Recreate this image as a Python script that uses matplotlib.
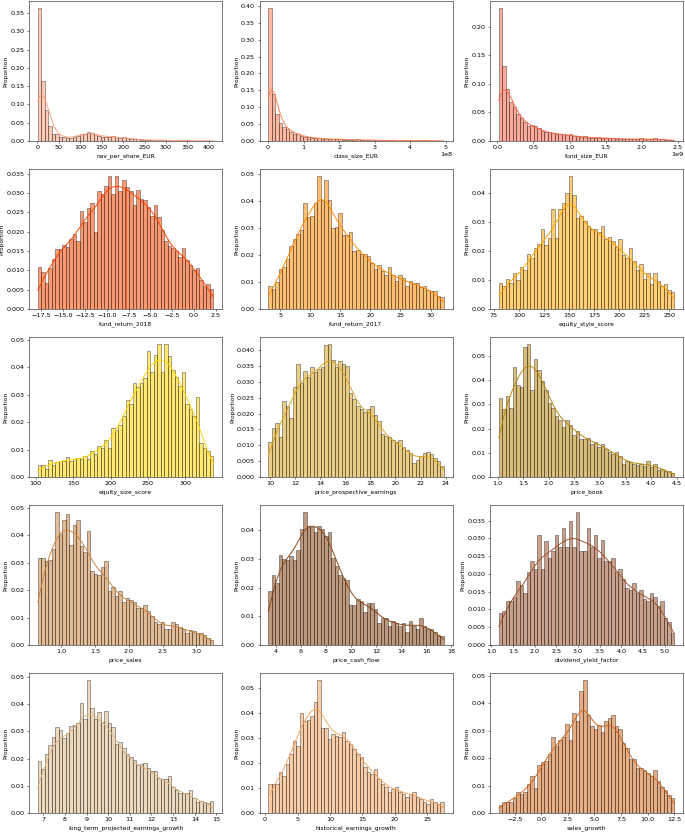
import numpy as np
import matplotlib
matplotlib.use("Agg")
import matplotlib.pyplot as plt

plt.rcParams["font.size"] = 10
plt.rcParams["axes.labelsize"] = 9.5

# column names, colours and data ranges (min, max) of each panel
names = ["nav_per_share_EUR", "class_size_EUR", "fund_size_EUR",
         "fund_return_2018", "fund_return_2017", "equity_style_score",
         "equity_size_score", "price_prospective_earnings", "price_book",
         "price_sales", "price_cash_flow", "dividend_yield_factor",
         "long_term_projected_earnings_growth", "historical_earnings_growth", "sales_growth"]
colors = ["lightsalmon", "coral", "tomato",
          "orangered", "darkorange", "orange",
          "gold", "goldenrod", "darkgoldenrod",
          "peru", "saddlebrown", "sienna",
          "burlywood", "sandybrown", "chocolate"]
ranges = [(1, 410), (0.5e6, 4.95e8), (0.02e9, 2.45e9),
          (-17.9, 2.2), (3.0, 32.2), (80, 255),
          (103, 337), (9.85, 23.85), (1.02, 4.45),
          (0.65, 3.25), (3.4, 17.4), (1.17, 5.22),
          (6.75, 14.85), (0.5, 27.5), (-4.0, 12.5)]

# proportion per bin (50 bins each)
nav_per_share = [0.365, 0.165, 0.085, 0.04, 0.02, 0.018, 0.012, 0.01, 0.008, 0.009,
                 0.01, 0.015, 0.02, 0.02, 0.025, 0.022, 0.018, 0.015, 0.012, 0.012,
                 0.012, 0.013, 0.01, 0.009, 0.01, 0.008, 0.006, 0.005, 0.005, 0.004,
                 0.003, 0.003, 0.002, 0.002, 0.002, 0.002, 0.003, 0.002, 0.001, 0.001,
                 0.001, 0.001, 0.002, 0.001, 0.001, 0.001, 0.001, 0.001, 0.001, 0.001]
class_size = [0.395, 0.14, 0.08, 0.052, 0.042, 0.035, 0.028, 0.022, 0.02, 0.016,
              0.012, 0.011, 0.009, 0.01, 0.008, 0.007, 0.006, 0.006, 0.005, 0.005,
              0.007, 0.004, 0.004, 0.003, 0.003, 0.005, 0.003, 0.003, 0.003, 0.002,
              0.002, 0.002, 0.002, 0.002, 0.002, 0.002, 0.001, 0.001, 0.001, 0.001,
              0.001, 0.001, 0.001, 0.001, 0.002, 0.001, 0.001, 0.001, 0.001, 0.001]
fund_size = [0.233, 0.131, 0.091, 0.068, 0.06, 0.048, 0.04, 0.033, 0.026, 0.028,
             0.027, 0.022, 0.018, 0.016, 0.015, 0.014, 0.013, 0.013, 0.012, 0.011,
             0.012, 0.009, 0.008, 0.007, 0.008, 0.007, 0.006, 0.006, 0.007, 0.005,
             0.005, 0.005, 0.006, 0.004, 0.004, 0.004, 0.004, 0.003, 0.003, 0.004,
             0.005, 0.003, 0.003, 0.003, 0.005, 0.003, 0.003, 0.002, 0.002, 0.002]
fund_return_2018 = [0.0108, 0.0095, 0.0068, 0.0105, 0.013, 0.0155, 0.0155, 0.0165, 0.016, 0.018,
                    0.0195, 0.0175, 0.0253, 0.0225, 0.0262, 0.0275, 0.02, 0.0305, 0.0297, 0.0318,
                    0.0345, 0.0298, 0.0345, 0.0305, 0.0335, 0.0316, 0.0305, 0.027, 0.0308, 0.0285,
                    0.0282, 0.0265, 0.024, 0.027, 0.0237, 0.0205, 0.0177, 0.0163, 0.0158, 0.015,
                    0.0135, 0.0158, 0.0127, 0.0115, 0.01, 0.0105, 0.0075, 0.006, 0.0065, 0.0053]
fund_return_2017 = [0.0085, 0.0075, 0.01, 0.015, 0.0155, 0.0185, 0.0235, 0.026, 0.028, 0.0295,
                    0.0395, 0.034, 0.0345, 0.0395, 0.0495, 0.0405, 0.048, 0.0405, 0.03, 0.0305,
                    0.0355, 0.0275, 0.0275, 0.0285, 0.0215, 0.022, 0.0205, 0.0205, 0.0195, 0.017,
                    0.015, 0.0165, 0.014, 0.0125, 0.0155, 0.0125, 0.0105, 0.0125, 0.0115, 0.0085,
                    0.0105, 0.0095, 0.0095, 0.008, 0.0085, 0.007, 0.0065, 0.0065, 0.005, 0.0045]
equity_style_score = [0.009, 0.008, 0.0105, 0.009, 0.0125, 0.01, 0.0145, 0.0135, 0.019, 0.0175,
                      0.021, 0.0225, 0.0275, 0.022, 0.0245, 0.0345, 0.0245, 0.0345, 0.0365, 0.04,
                      0.046, 0.0395, 0.0315, 0.032, 0.0305, 0.0285, 0.0275, 0.0275, 0.0265, 0.0285,
                      0.024, 0.025, 0.0235, 0.0215, 0.024, 0.0185, 0.0175, 0.021, 0.0165, 0.0135,
                      0.0155, 0.0105, 0.0125, 0.0085, 0.0125, 0.0095, 0.008, 0.0085, 0.0065, 0.006]
equity_size_score = [0.0045, 0.0045, 0.003, 0.0062, 0.0045, 0.0055, 0.006, 0.006, 0.0072, 0.0058,
                     0.0065, 0.0068, 0.0065, 0.0078, 0.0065, 0.0095, 0.0085, 0.0115, 0.0105, 0.0135,
                     0.0105, 0.0178, 0.017, 0.019, 0.0222, 0.0282, 0.0265, 0.0343, 0.0327, 0.0345,
                     0.036, 0.0462, 0.0385, 0.0445, 0.0487, 0.0382, 0.0485, 0.0443, 0.0392, 0.0365,
                     0.0332, 0.0382, 0.0265, 0.0248, 0.0222, 0.0293, 0.0125, 0.0105, 0.0095, 0.0075]
price_prospective_earnings = [0.011, 0.0155, 0.017, 0.0125, 0.024, 0.0225, 0.0185, 0.0285, 0.0355, 0.0295,
                              0.0335, 0.0315, 0.0345, 0.033, 0.034, 0.0345, 0.0415, 0.042, 0.037, 0.0345,
                              0.0365, 0.0355, 0.035, 0.0265, 0.0245, 0.0225, 0.0215, 0.0205, 0.0215, 0.0225,
                              0.0195, 0.0175, 0.0135, 0.013, 0.0125, 0.0115, 0.011, 0.0115, 0.0095, 0.0085,
                              0.0075, 0.0045, 0.0055, 0.0065, 0.0075, 0.0078, 0.0072, 0.006, 0.005, 0.0035]
price_book = [0.0325, 0.028, 0.0335, 0.0285, 0.0455, 0.038, 0.037, 0.0535, 0.055, 0.036,
              0.0485, 0.044, 0.0395, 0.036, 0.0305, 0.0285, 0.025, 0.0235, 0.0205, 0.0235,
              0.0215, 0.0175, 0.019, 0.0155, 0.0155, 0.016, 0.0135, 0.0145, 0.0125, 0.0135,
              0.0115, 0.0105, 0.0095, 0.0105, 0.0085, 0.0055, 0.0065, 0.006, 0.0055, 0.005,
              0.0055, 0.0045, 0.0065, 0.004, 0.0055, 0.003, 0.0035, 0.0025, 0.0025, 0.0015]
price_sales = [0.0315, 0.0315, 0.0305, 0.031, 0.035, 0.0485, 0.0405, 0.0455, 0.0475, 0.0365,
               0.0435, 0.0455, 0.036, 0.034, 0.0415, 0.027, 0.026, 0.0255, 0.0285, 0.0305,
               0.0195, 0.021, 0.018, 0.0195, 0.0155, 0.017, 0.0165, 0.0155, 0.0135, 0.0135,
               0.0145, 0.0125, 0.0105, 0.0085, 0.0075, 0.0085, 0.0058, 0.006, 0.0085, 0.0075,
               0.0065, 0.006, 0.0045, 0.0055, 0.005, 0.0042, 0.0045, 0.0035, 0.0025, 0.002]
price_cash_flow = [0.019, 0.0245, 0.0215, 0.0315, 0.03, 0.0295, 0.031, 0.0295, 0.033, 0.0405,
                   0.0465, 0.0415, 0.041, 0.0395, 0.0415, 0.0405, 0.038, 0.0395, 0.0305, 0.0275,
                   0.0245, 0.0235, 0.0225, 0.014, 0.014, 0.016, 0.0155, 0.0115, 0.0145, 0.0145,
                   0.0125, 0.0075, 0.0095, 0.0095, 0.0065, 0.0085, 0.0075, 0.0065, 0.0075, 0.0045,
                   0.0085, 0.0065, 0.0055, 0.0095, 0.0065, 0.0055, 0.0055, 0.0045, 0.0035, 0.003]
dividend_yield_factor = [0.009, 0.0095, 0.0125, 0.0125, 0.0135, 0.018, 0.017, 0.0145, 0.0205, 0.0235,
                         0.0215, 0.031, 0.0215, 0.0293, 0.0245, 0.0265, 0.031, 0.0275, 0.033, 0.0275,
                         0.035, 0.0275, 0.0375, 0.0265, 0.0265, 0.033, 0.0275, 0.031, 0.0245, 0.0295,
                         0.0235, 0.0235, 0.0245, 0.0205, 0.0215, 0.0185, 0.016, 0.0155, 0.0175, 0.0145,
                         0.0155, 0.013, 0.0125, 0.0145, 0.0135, 0.011, 0.0125, 0.0075, 0.0065, 0.0035]
lt_projected_growth = [0.019, 0.016, 0.0215, 0.025, 0.028, 0.0315, 0.0305, 0.0275, 0.0295, 0.032,
                       0.0325, 0.033, 0.0405, 0.0345, 0.049, 0.0385, 0.0345, 0.037, 0.0335, 0.0375,
                       0.033, 0.0315, 0.0255, 0.026, 0.024, 0.0215, 0.0205, 0.0195, 0.0175, 0.018,
                       0.0185, 0.0165, 0.0155, 0.0155, 0.013, 0.0125, 0.0125, 0.0135, 0.0095, 0.0085,
                       0.0075, 0.0075, 0.0075, 0.0085, 0.0055, 0.004, 0.0045, 0.004, 0.0035, 0.0045]
historical_growth = [0.0115, 0.0115, 0.0115, 0.0165, 0.015, 0.0195, 0.0235, 0.029, 0.027, 0.04,
                     0.037, 0.0375, 0.039, 0.0445, 0.0535, 0.034, 0.034, 0.0295, 0.0315, 0.031,
                     0.0305, 0.0325, 0.029, 0.0275, 0.0255, 0.0235, 0.0225, 0.0185, 0.0165, 0.0155,
                     0.0175, 0.0135, 0.0115, 0.0105, 0.0085, 0.0095, 0.0105, 0.0085, 0.0075, 0.0065,
                     0.0075, 0.0085, 0.0065, 0.0055, 0.0045, 0.0035, 0.0055, 0.0045, 0.0035, 0.0045]
sales_growth = [0.003, 0.004, 0.004, 0.004, 0.0055, 0.0075, 0.0068, 0.0075, 0.0105, 0.0135,
                0.009, 0.0175, 0.0185, 0.019, 0.0215, 0.0275, 0.0245, 0.0265, 0.0275, 0.0325,
                0.0265, 0.0365, 0.0335, 0.0445, 0.0485, 0.0355, 0.0315, 0.0305, 0.032, 0.0295,
                0.0335, 0.0345, 0.0355, 0.0315, 0.0305, 0.0255, 0.0235, 0.0195, 0.0195, 0.0165,
                0.0165, 0.0155, 0.0145, 0.0135, 0.0155, 0.0115, 0.0095, 0.0085, 0.0065, 0.0055]

heights = [nav_per_share, class_size, fund_size, fund_return_2018, fund_return_2017,
           equity_style_score, equity_size_score, price_prospective_earnings, price_book,
           price_sales, price_cash_flow, dividend_yield_factor, lt_projected_growth,
           historical_growth, sales_growth]


def kde_line(centers, props, lo, hi, width, n_obs=3500):
    # gaussian kde of the binned proportions, scaled like seaborn's stat="proportion"
    w = np.asarray(props) / np.sum(props)
    mu = np.sum(w * centers)
    sd = np.sqrt(np.sum(w * (centers - mu) ** 2))
    bw = sd * n_obs ** (-0.2)
    xs = np.linspace(lo, hi, 300)
    dens = (w[None, :] * np.exp(-0.5 * ((xs[:, None] - centers[None, :]) / bw) ** 2)).sum(1)
    dens /= bw * np.sqrt(2 * np.pi)
    return xs, dens * width


W, H = 685, 832
DPI = 45.6667
fig = plt.figure(figsize=(W / DPI, H / DPI), dpi=DPI)
col_left = [29, 259.5, 490]
row_bottom = [141, 309, 477, 645, 813]
aw, ah = 193, 140

for i, (name, col, (lo, hi), h) in enumerate(zip(names, colors, ranges, heights)):
    r, c = divmod(i, 3)
    ax = fig.add_axes([col_left[c] / W, 1 - row_bottom[r] / H, aw / W, ah / H])
    edges = np.linspace(lo, hi, len(h) + 1)
    width = edges[1] - edges[0]
    centers = edges[:-1] + width / 2
    ax.bar(edges[:-1], h, width=width, align="edge", color=col, alpha=0.55,
           edgecolor="black", linewidth=1.0)
    xs, ys = kde_line(centers, h, lo, hi, width)
    ax.plot(xs, ys, color=col, lw=1.5)
    ax.set_xlabel(name)
    ax.set_ylabel("Proportion", labelpad=3)

fig.savefig("out.png", dpi=DPI)
